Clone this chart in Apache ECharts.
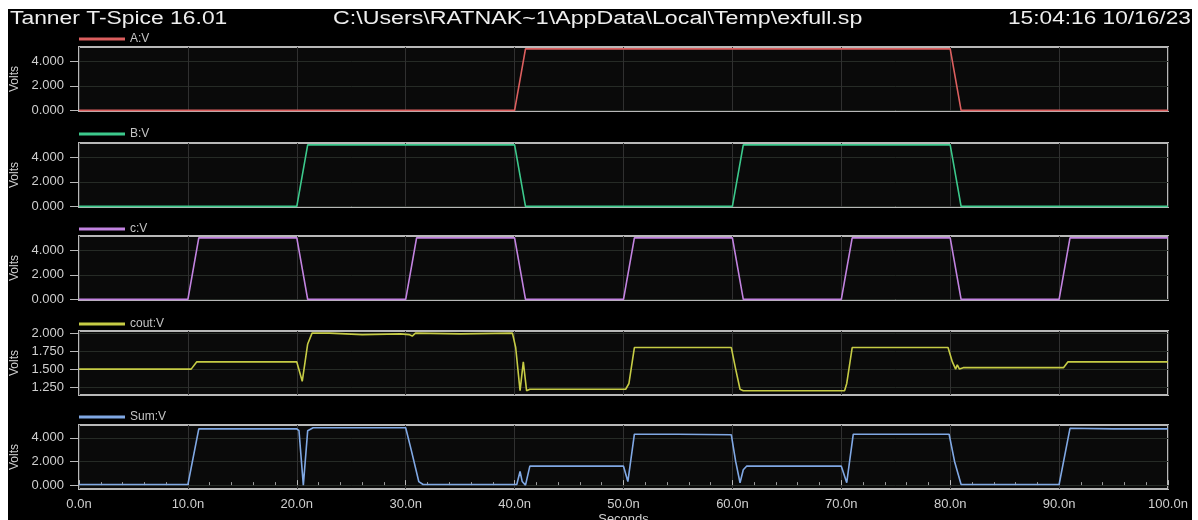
<!DOCTYPE html>
<html>
<head>
<meta charset="utf-8">
<title>exfull.sp</title>
<script src="https://cdn.jsdelivr.net/npm/echarts@6/dist/echarts.min.js"></script>
<style>
body { margin: 0; padding: 0; background: #fff; }
#chart { position: absolute; left: 8px; top: 9px; width: 1184px; height: 511px; background: #000; }
</style>
</head>
<body>
<div id="chart"></div>
<script>
// waveforms: time in ns, value in volts
const aTime = [0, 40, 41, 80, 81, 100];
const aVolt = [0, 0, 5, 5, 0, 0];

const bTime = [0, 20, 21, 40, 41, 60, 61, 80, 81, 100];
const bVolt = [0, 0, 5, 5, 0, 0, 5, 5, 0, 0];

const cTime = [0, 10, 11, 20, 21, 30, 31, 40, 41, 50, 51, 60, 61, 70, 71, 80, 81, 90, 91, 100];
const cVolt = [0, 0, 5, 5, 0, 0, 5, 5, 0, 0, 5, 5, 0, 0, 5, 5, 0, 0, 5, 5];

const coutTime = [0, 10.3, 10.8, 20.0, 20.5, 21.0, 21.4, 23, 26, 29.5, 30.3, 30.6, 30.9, 35, 39.8, 40.1, 40.3, 40.5, 40.8, 41.1, 41.4, 50.2, 50.5, 51.0, 55, 59.9, 60.3, 60.7, 61.0, 70.3, 70.5, 71.0, 79.8, 80.2, 80.5, 80.65, 80.85, 81.2, 90.4, 90.8, 100];
const coutVolt = [1.5, 1.5, 1.6, 1.6, 1.33, 1.85, 2.0, 2.0, 1.98, 1.99, 1.98, 1.96, 2.0, 1.99, 2.0, 1.8, 1.5, 1.2, 1.6, 1.2, 1.22, 1.22, 1.3, 1.8, 1.8, 1.8, 1.5, 1.22, 1.2, 1.2, 1.3, 1.8, 1.8, 1.6, 1.5, 1.56, 1.5, 1.52, 1.52, 1.6, 1.6];

const sumTime = [0, 10, 11, 20, 20.2, 20.6, 21.0, 21.5, 30, 30.5, 31.2, 31.6, 40.2, 40.5, 40.7, 41.0, 41.4, 50.0, 50.4, 51.0, 55, 59.9, 60.3, 60.7, 61.0, 61.3, 70.0, 70.5, 71.1, 75, 79.9, 80.4, 81.0, 90, 91, 95, 100];
const sumVolt = [0.05, 0.05, 4.75, 4.75, 4.6, 0.0, 4.6, 4.85, 4.85, 3.0, 0.3, 0.05, 0.05, 1.15, 0.3, 0.0, 1.6, 1.6, 0.3, 4.3, 4.3, 4.25, 2.0, 0.2, 1.3, 1.6, 1.6, 0.2, 4.3, 4.3, 4.3, 2.0, 0.05, 0.05, 4.8, 4.75, 4.75];

const names = ['A:V', 'B:V', 'c:V', 'cout:V', 'Sum:V'];
const colors = ['#dc5f5f', '#3cc98c', '#c283e0', '#c6cc45', '#80a8e4'];
const voltTicks = [0, 2, 4];
const coutTicks = [1.25, 1.5, 1.75, 2.0];

const times = [aTime, bTime, cTime, coutTime, sumTime];
const volts = [aVolt, bVolt, cVolt, coutVolt, sumVolt];
const yRange = [[-0.05, 5.15], [-0.05, 5.15], [-0.05, 5.15], [1.14, 2.03], [-0.33, 5.08]];
const yTicks = [voltTicks, voltTicks, voltTicks, coutTicks, voltTicks];

const gridTop = [38, 134, 227, 322, 416];
const legendTop = [19, 114, 209, 304, 397];
const labelColor = '#cfcfcf';
const font = 'Liberation Sans';

let grids = [], xAxes = [], yAxes = [], series = [], legends = [];
for (let i = 0; i < 5; i++) {
  const last = i === 4;
  grids.push({
    left: 71, width: 1089, top: gridTop[i], height: 64,
    outerBoundsMode: 'none', containLabel: false,
    show: true, borderColor: '#b8b8b8', borderWidth: 2, backgroundColor: '#0a0a0a'
  });
  xAxes.push({
    type: 'value', gridIndex: i, min: 0, max: 100, interval: 10,
    axisLine: { show: false },
    axisTick: { show: last, inside: true, length: 5, lineStyle: { color: '#b8b8b8' } },
    minorTick: { show: last, splitNumber: 5, length: 3, lineStyle: { color: '#9a9a9a' } },
    axisLabel: {
      show: last, color: labelColor, fontSize: 13, margin: 9, fontFamily: font,
      formatter: v => v.toFixed(1) + 'n'
    },
    splitLine: { show: true, lineStyle: { color: '#303030', width: 1 } },
    name: last ? 'Seconds' : '',
    nameLocation: 'middle', nameGap: 24,
    nameTextStyle: { color: labelColor, fontSize: 13, fontFamily: font }
  });
  yAxes.push({
    type: 'value', gridIndex: i, min: yRange[i][0], max: yRange[i][1],
    axisLine: { show: false },
    axisTick: { show: true, length: 9, customValues: yTicks[i], lineStyle: { color: '#b8b8b8' } },
    axisLabel: {
      color: labelColor, fontSize: 13, margin: 15, customValues: yTicks[i], fontFamily: font,
      formatter: v => v.toFixed(3)
    },
    splitLine: { show: true, customValues: yTicks[i], lineStyle: { color: '#262b26', width: 1 } },
    name: 'Volts', nameLocation: 'middle', nameGap: 57, nameRotate: 90,
    nameTextStyle: { color: labelColor, fontSize: 12, fontFamily: font }
  });
  series.push({
    name: names[i], type: 'line', xAxisIndex: i, yAxisIndex: i,
    showSymbol: false, symbol: 'none', color: colors[i],
    lineStyle: { width: 1.6, color: colors[i] },
    data: times[i].map((t, k) => [t, volts[i][k]])
  });
  legends.push({
    data: [names[i]], left: 66, top: legendTop[i],
    icon: 'rect', itemWidth: 46, itemHeight: 3, itemGap: 6,
    selectedMode: false,
    textStyle: { color: '#c4c4c4', fontSize: 12, fontFamily: font }
  });
}

const chart = echarts.init(document.getElementById('chart'));
chart.setOption({
  animation: false,
  backgroundColor: '#000',
  grid: grids,
  xAxis: xAxes,
  yAxis: yAxes,
  series: series,
  legend: legends,
  graphic: [
    { type: 'text', left: 2, top: 1, scaleX: 1.27, style: { text: 'Tanner T-Spice 16.01', fill: '#eeeeee', font: '18px "Liberation Sans"' } },
    { type: 'text', left: 325, top: 1, scaleX: 1.29, style: { text: 'C:\\Users\\RATNAK~1\\AppData\\Local\\Temp\\exfull.sp', fill: '#eeeeee', font: '18px "Liberation Sans"' } },
    { type: 'text', left: 1000, top: 1, scaleX: 1.26, style: { text: '15:04:16 10/16/23', fill: '#eeeeee', font: '18px "Liberation Sans"' } }
  ]
});
</script>
</body>
</html>
